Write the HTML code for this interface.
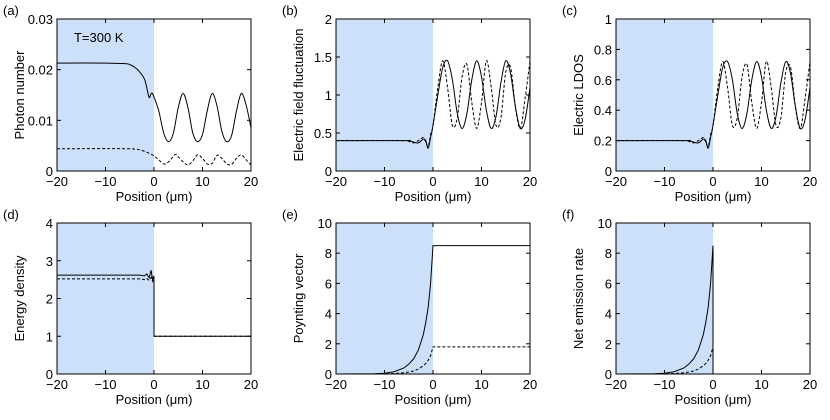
<!DOCTYPE html>
<html><head><meta charset="utf-8"><style>
body{margin:0;background:#fff;width:830px;height:415px;overflow:hidden}
svg text{font-family:"Liberation Sans",Arial,sans-serif;fill:#000}
</style></head><body>
<svg id="fig" width="830" height="415" xmlns="http://www.w3.org/2000/svg"></svg>
<script>
// ---- data (position in µm) ----
const xsA1=[-20,-10,-6,-5,-4,-3,-2,-1.5,-1,-0.5,0,1,2,3,4,5,6,7,8,9,10,11,12,13,14,15,16,17,18,19,20];
const ysA1=[0.0213,0.0213,0.0212,0.0210,0.0205,0.0196,0.0182,0.0165,0.0145,0.0154,0.0146,0.0118,0.0075,0.0058,0.0075,0.0125,0.0153,0.0125,0.0075,0.0058,0.0072,0.012,0.0153,0.0128,0.0078,0.0058,0.007,0.0118,0.0153,0.013,0.0085];
const xsA2=[-20,-6,-4,-3,-2,-1,0,1,2,3,4,4.5,5,6,7,8,9,10,11,12,13,14,15,16,17,18,19,20];
const ysA2=[0.0044,0.0044,0.0043,0.0042,0.0039,0.0035,0.003,0.0022,0.0014,0.0018,0.0029,0.0033,0.0028,0.0018,0.0012,0.002,0.0032,0.0025,0.0014,0.0015,0.0031,0.0025,0.0014,0.0013,0.0025,0.0032,0.0022,0.0012];
const xsBC=[-20,-6,-5,-4,-3,-2,-1.5,-1,-0.5,0,1,2,3,4,5,6,7,8,9,10,11,12,13,14,15,16,17,18,19,20];
const ysC1=[0.2,0.2,0.2,0.19,0.185,0.21,0.2,0.15,0.22,0.3,0.5,0.68,0.72,0.6,0.38,0.28,0.38,0.6,0.72,0.62,0.4,0.28,0.36,0.58,0.72,0.64,0.42,0.28,0.34,0.55];
const ysC2=[0.2,0.2,0.195,0.185,0.2,0.22,0.19,0.16,0.24,0.3,0.55,0.72,0.55,0.3,0.35,0.62,0.7,0.45,0.28,0.45,0.72,0.55,0.3,0.35,0.65,0.68,0.42,0.28,0.48,0.72];
const ysB1=[0.4,0.4,0.4,0.38,0.37,0.42,0.4,0.3,0.44,0.6,1.0,1.36,1.45,1.2,0.76,0.56,0.76,1.2,1.45,1.24,0.8,0.56,0.72,1.16,1.45,1.28,0.84,0.56,0.68,1.1];
const ysB2=[0.4,0.4,0.39,0.37,0.4,0.44,0.38,0.32,0.48,0.6,1.1,1.45,1.1,0.6,0.7,1.24,1.4,0.9,0.56,0.9,1.45,1.1,0.6,0.7,1.3,1.36,0.84,0.56,0.96,1.45];
const xsD=[-20,-3,-2,-1.5,-1,-0.6,-0.3,0,0,20];
const ysD1=[2.62,2.62,2.6,2.65,2.55,2.75,2.5,2.6,1.0,1.0];
const ysD2=[2.52,2.52,2.5,2.53,2.48,2.56,2.45,2.5,1.0,1.0];
const xsE=[-20,-12,-10,-8,-6,-5,-4,-3,-2,-1.5,-1,-0.5,0,20];
const ysE1=[0,0.02,0.05,0.15,0.4,0.65,1.0,1.6,2.6,3.4,4.4,6.0,8.5,8.5];
const ysE2=[0,0,0.01,0.03,0.08,0.13,0.2,0.33,0.55,0.7,0.9,1.2,1.8,1.8];
const xsF=[-20,-12,-10,-8,-6,-5,-4,-3,-2,-1.5,-1,-0.5,0,0,20];
const ysF1=[0,0.02,0.05,0.15,0.4,0.65,1.0,1.6,2.6,3.4,4.4,6.0,8.5,0,0];
const ysF2=[0,0,0.01,0.03,0.08,0.13,0.2,0.33,0.55,0.7,0.9,1.2,1.8,0,0];
const xTicks=[-20,-10,0,10,20];
const xTickLabels=["\u221220","\u221210","0","10","20"];

const NS="http://www.w3.org/2000/svg";
const svg=document.getElementById('fig');
function mk(tag,attrs,parent){const e=document.createElementNS(NS,tag);for(const k in attrs)e.setAttribute(k,attrs[k]);(parent||svg).appendChild(e);return e;}
function spline(pts){let d=`M${pts[0][0]},${pts[0][1]}`;for(let i=0;i<pts.length-1;i++){const p0=pts[Math.max(0,i-1)],p1=pts[i],p2=pts[i+1],p3=pts[Math.min(pts.length-1,i+2)];const c1=[p1[0]+(p2[0]-p0[0])/6,p1[1]+(p2[1]-p0[1])/6],c2=[p2[0]-(p3[0]-p1[0])/6,p2[1]-(p3[1]-p1[1])/6];d+=`C${c1[0]},${c1[1]} ${c2[0]},${c2[1]} ${p2[0]},${p2[1]}`;}return d;}
function panel(id,L,T,W,H,ymax,yTicks,yLabels,ylab,series,smooth){
  const g=mk('g',{});
  
  
  const sx=v=>L+(v+20)/40*W, sy=v=>T+H-v/ymax*H;
  const sh=mk('rect',{x:sx(-20),y:T,width:sx(0)-sx(-20),height:H,fill:'#cce1f9'},g);
  
  
  series.forEach((s,i)=>{
    const pts=s.x.map((v,j)=>[sx(v),sy(s.y[j])]);
    const d=smooth?spline(pts):'M'+pts.map(p=>p.join(',')).join('L');
    const p=mk('path',{d:d,fill:'none',stroke:'#000','stroke-width':1,'stroke-dasharray':i?'3,2':'none'},g);
    
    
  });
  const box=mk('rect',{x:L,y:T,width:W,height:H,fill:'none',stroke:'#000','stroke-width':1},g);
  
  
  xTicks.forEach((v,i)=>{const x=sx(v);
    mk('line',{x1:x,x2:x,y1:T+H,y2:T+H-4,stroke:'#000'},g);mk('line',{x1:x,x2:x,y1:T,y2:T+4,stroke:'#000'},g);
    const t=mk('text',{x:x,y:T+H+15,'font-size':13,'text-anchor':'middle'},g);t.textContent=xTickLabels[i];
    
    });
  yTicks.forEach((v,i)=>{const y=sy(v);
    mk('line',{x1:L,x2:L+4,y1:y,y2:y,stroke:'#000'},g);mk('line',{x1:L+W,x2:L+W-4,y1:y,y2:y,stroke:'#000'},g);
    const t=mk('text',{x:L-4,y:y+5,'font-size':13,'text-anchor':'end'},g);t.textContent=yLabels[i];
    
    });
  const xl=mk('text',{x:L+W/2,y:T+H+30,'font-size':13,'text-anchor':'middle'},g);xl.textContent='Position (\u03bcm)';
  
  
  const yl=mk('text',{x:0,y:0,'font-size':13,'text-anchor':'middle',transform:`translate(${L-33},${T+H/2}) rotate(-90)`},g);yl.textContent=ylab;
  
  
  const pl=mk('text',{x:L-54,y:T-4,'font-size':13},g);pl.textContent='('+id+')';
  
  
  return {g,sx,sy};
}
const tL=[57,336,616],W=194,T1=19,H1=152,T2=223,H2=151;
const a=panel('a',tL[0],T1,W,H1,0.03,[0,0.01,0.02,0.03],["0","0.01","0.02","0.03"],'Photon number',[{x:xsA1,y:ysA1},{x:xsA2,y:ysA2}],true);
const tt=mk('text',{x:a.sx(-16.5),y:T1+23,'font-size':13},a.g);tt.textContent='T=300 K';


panel('b',tL[1],T1,W,H1,2,[0,0.5,1,1.5,2],["0","0.5","1","1.5","2"],'Electric field fluctuation',[{x:xsBC,y:ysB1},{x:xsBC,y:ysB2}],true);
panel('c',tL[2],T1,W,H1,1,[0,0.2,0.4,0.6,0.8,1],["0","0.2","0.4","0.6","0.8","1"],'Electric LDOS',[{x:xsBC,y:ysC1},{x:xsBC,y:ysC2}],true);
panel('d',tL[0],T2,W,H2,4,[0,1,2,3,4],["0","1","2","3","4"],'Energy density',[{x:xsD,y:ysD1},{x:xsD,y:ysD2}],false);
panel('e',tL[1],T2,W,H2,10,[0,2,4,6,8,10],["0","2","4","6","8","10"],'Poynting vector',[{x:xsE,y:ysE1},{x:xsE,y:ysE2}],false);
panel('f',tL[2],T2,W,H2,10,[0,2,4,6,8,10],["0","2","4","6","8","10"],'Net emission rate',[{x:xsF,y:ysF1},{x:xsF,y:ysF2}],false);
</script>
</body></html>
